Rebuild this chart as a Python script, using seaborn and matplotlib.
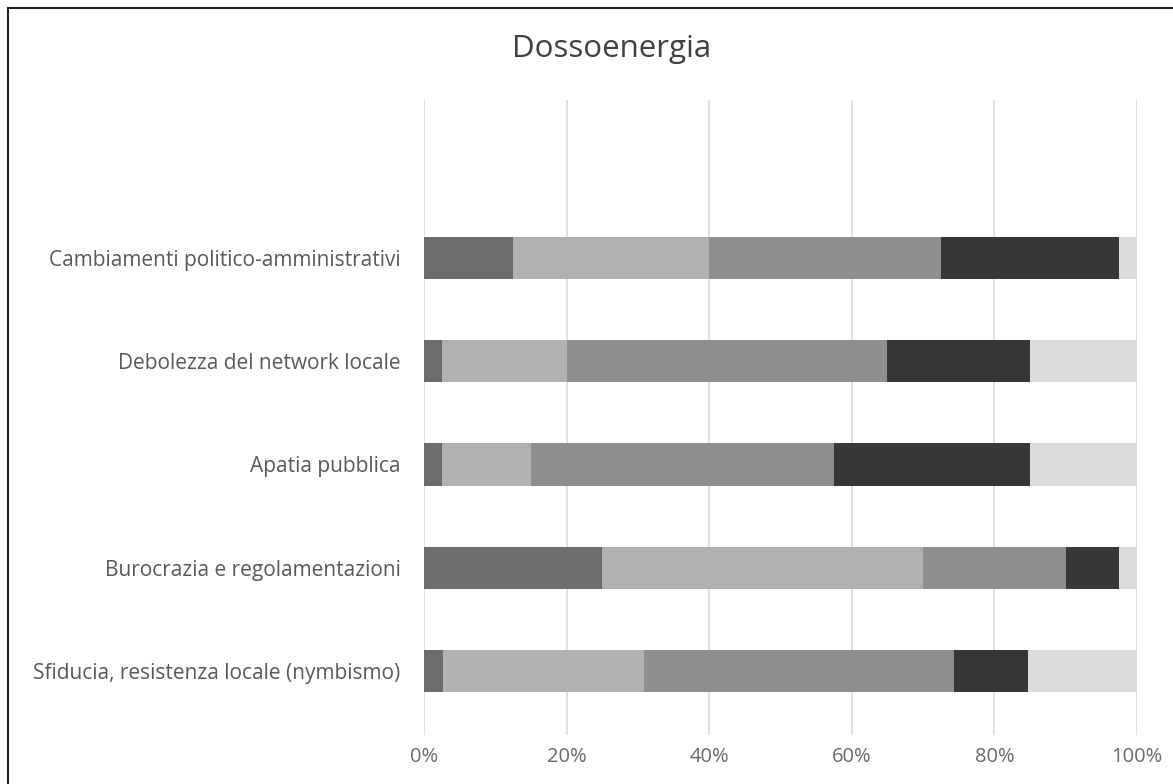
import matplotlib
matplotlib.use("Agg")
import matplotlib.pyplot as plt
import numpy as np
import pandas as pd
import seaborn as sns
from matplotlib.patches import Rectangle

TITLE = "Dossoenergia"
CATEGORIES = [
    "Cambiamenti politico-amministrativi",
    "Debolezza del network locale",
    "Apatia pubblica",
    "Burocrazia e regolamentazioni",
    "Sfiducia, resistenza locale (nymbismo)",
]
# share of answers per segment (percent), left to right
SEG_1 = [12.5, 2.5, 2.5, 25.0, 2.6]
SEG_2 = [27.5, 17.5, 12.5, 45.0, 28.2]
SEG_3 = [32.5, 45.0, 42.5, 20.0, 43.6]
SEG_4 = [25.0, 20.0, 27.5, 7.5, 10.3]
SEG_5 = [2.5, 15.0, 15.0, 2.5, 15.3]
SEG_COLORS = ["#6c6c6c", "#b1b1b1", "#8f8f8f", "#373737", "#dcdcdc"]
X_TICKS = [0, 20, 40, 60, 80, 100]

sns.set_theme(style="white")
plt.rcParams["font.family"] = ["Open Sans", "DejaVu Sans"]
TEXT = "#595959"

segments = np.array([SEG_1, SEG_2, SEG_3, SEG_4, SEG_5])
cumulative = segments.cumsum(axis=0)

fig = plt.figure(figsize=(11.73, 7.84), dpi=100)
ax = fig.add_axes([0.3615, 0.0625, 0.6078, 0.81])

for x in X_TICKS:
    ax.axvline(x, color="#dadada", lw=1.2, zorder=0)

# stacked bars: draw widest cumulative first, then overlay narrower ones
for i in range(len(segments) - 1, -1, -1):
    df = pd.DataFrame({"category": CATEGORIES, "value": cumulative[i]})
    sns.barplot(
        data=df,
        x="value",
        y="category",
        orient="h",
        color=SEG_COLORS[i],
        saturation=1,
        width=0.41,
        linewidth=0,
        ax=ax,
        zorder=2,
    )

ax.set_xlim(0, 100)
ax.set_ylim(4.62, -1.53)
ax.set_xticks(X_TICKS)
ax.set_xticklabels([f"{t}%" for t in X_TICKS])
ax.set_xlabel("")
ax.set_ylabel("")
ax.tick_params(axis="x", length=0, pad=9, labelsize=14.5, labelcolor="#6a6a6a")
ax.tick_params(axis="y", length=0, pad=17, labelsize=15, labelcolor=TEXT)
sns.despine(ax=ax, left=True, bottom=True)

fig.text(0.521, 0.938, TITLE, ha="center", va="center", fontsize=22.5, color="#404040")

fig.patches.append(
    Rectangle((8 / 1173, -0.1), 1.2, 1 - 8 / 784 + 0.1, transform=fig.transFigure,
              fill=False, edgecolor="#222222", lw=1.5)
)

fig.savefig("out.png", dpi=100)
